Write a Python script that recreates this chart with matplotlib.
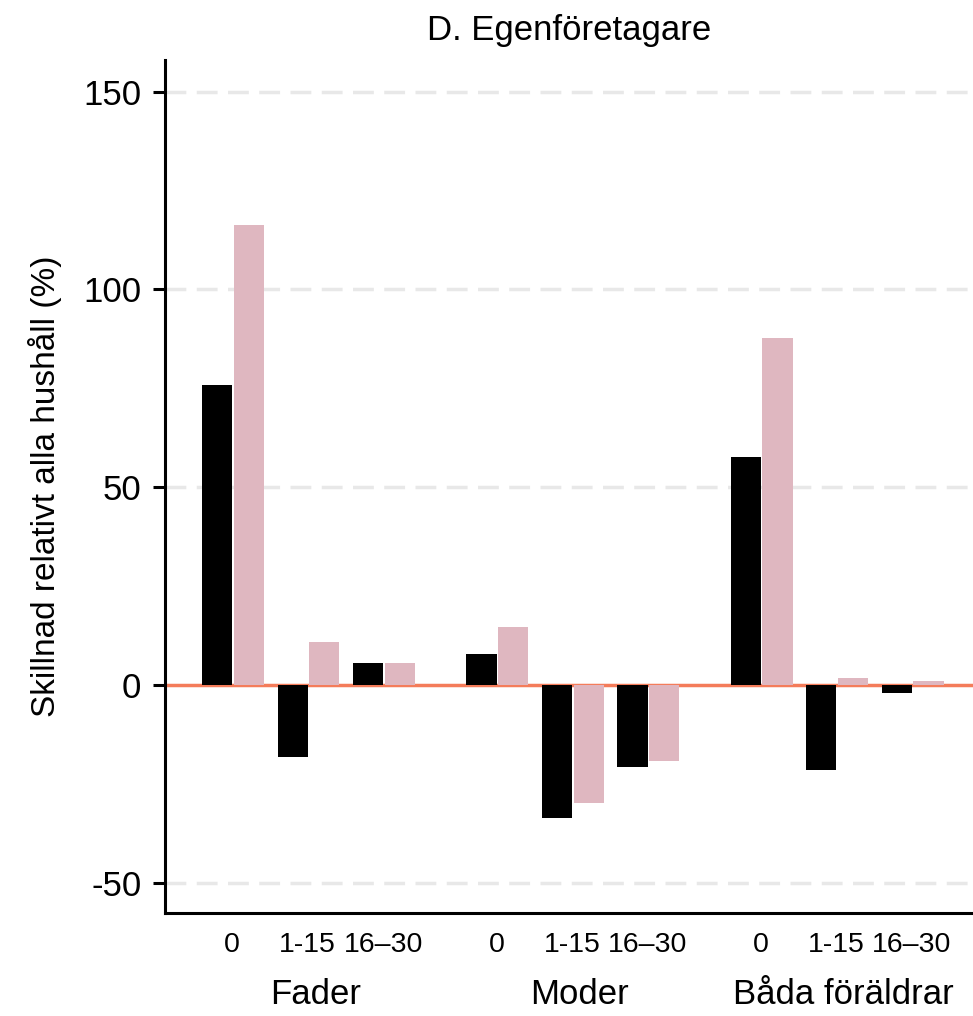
import numpy as np
import matplotlib.pyplot as plt

plt.rcParams['font.family'] = ['Liberation Sans', 'DejaVu Sans']

# data
groups = ["Fader", "Moder", "Båda föräldrar"]
categories = ["0", "1-15", "16–30"]
black_vals = [75.7, -18.2, 5.6, 7.8, -33.7, -20.8, 57.5, -21.5, -2.0]
pink_vals = [116.2, 10.9, 5.6, 14.7, -29.9, -19.2, 87.6, 1.8, 1.0]
yticks = [-50, 0, 50, 100, 150]

# x positions: three bars per group, gap between groups
x = []
for g in range(len(groups)):
    for c in range(len(categories)):
        x.append(g * 3.5 + c)
x = np.array(x)
w = 0.4

fig = plt.figure(figsize=(9.73, 10.16), dpi=100)
ax = fig.add_axes([0.1696, 0.1014, 0.8304, 0.8396])

for yv in yticks:
    if yv != 0:
        ax.axhline(yv, color="#e8e8e8", lw=2.5, dashes=(6, 3), zorder=0)
ax.axhline(0, color="#f47c5a", lw=2.5, zorder=1)

ax.bar(x - w / 2, black_vals, width=w, color="black", zorder=2)
ax.bar(x + w / 2 + 0.02, pink_vals, width=w, color="#dfb7c0", zorder=2)

ax.set_xlim(-0.89, 9.81)
ax.set_ylim(-57.7, 158)
ax.set_yticks(yticks)
ax.set_yticklabels([str(v) for v in yticks], fontsize=25)
ax.tick_params(axis="y", length=9, width=2.2, pad=8)

ax.set_xticks(x)
ax.set_xticklabels(categories * len(groups), fontsize=20.5)
ax.tick_params(axis="x", length=0, pad=14)

for g, name in enumerate(groups):
    ax.text(g * 3.5 + 1.1, -0.096, name, transform=ax.get_xaxis_transform(),
            ha="center", va="center", fontsize=25)

ax.spines["top"].set_visible(False)
ax.spines["right"].set_visible(False)
ax.spines["left"].set_linewidth(2.2)
ax.spines["bottom"].set_linewidth(2.2)

ax.set_ylabel("Skillnad relativt alla hushåll (%)", fontsize=24, labelpad=15)
ax.set_title("D. Egenföretagare", fontsize=25, pad=14)

fig.savefig("out.png", dpi=100)
